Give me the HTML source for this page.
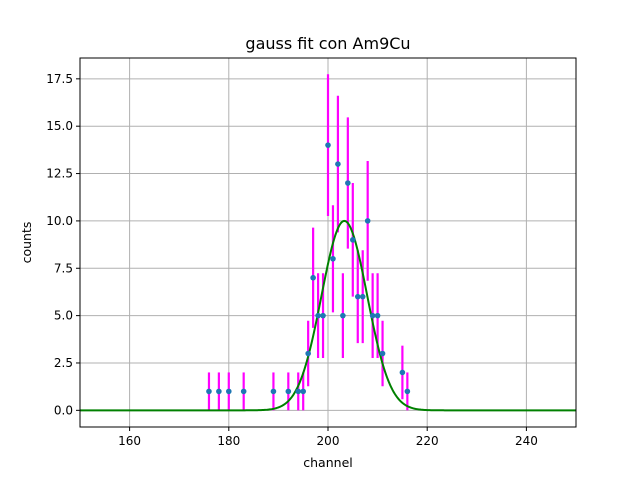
<!DOCTYPE html>
<html><head><meta charset="utf-8"><style>
body{margin:0;background:#fff;}
svg{display:block;font-family:"DejaVu Sans","Liberation Sans",sans-serif;}
</style></head><body>
<svg id="chart" width="640" height="480"></svg>
<script>
const channels=[176,178,180,183,189,192,194,195,196,197,198,199,200,201,202,203,204,205,206,207,208,209,210,211,215,216];
const counts=[1,1,1,1,1,1,1,1,3,7,5,5,14,8,13,5,12,9,6,6,10,5,5,3,2,1];
const fitAmp=10, fitMu=203.3, fitSigma=4.6;
const xTicks=[160,180,200,220,240];
const yTicks=[0,2.5,5,7.5,10,12.5,15,17.5];
const yTickLabels=["0.0","2.5","5.0","7.5","10.0","12.5","15.0","17.5"];
const L=80,R=576,T=58,B=427,xMin=150,xMax=250,yMin=-0.88,yMax=18.6;
const X=v=>L+(v-xMin)/(xMax-xMin)*(R-L);
const Y=v=>B-(v-yMin)/(yMax-yMin)*(B-T);
const svg=document.getElementById('chart');
const NS='http://www.w3.org/2000/svg';
function mk(tag,attrs,parent){const e=document.createElementNS(NS,tag);for(const k in attrs)e.setAttribute(k,attrs[k]);(parent||svg).appendChild(e);return e;}
const grid=mk('g',{});


xTicks.forEach(t=>{mk('line',{x1:X(t),x2:X(t),y1:T,y2:B,stroke:'#b0b0b0','stroke-width':1},grid);
 mk('line',{x1:X(t),x2:X(t),y1:B,y2:B+4,stroke:'#000'});
 const tx=mk('text',{x:X(t),y:B+18,'text-anchor':'middle','font-size':12});tx.textContent=t;
 
 });
yTicks.forEach((t,i)=>{mk('line',{x1:L,x2:R,y1:Y(t),y2:Y(t),stroke:'#b0b0b0','stroke-width':1},grid);
 mk('line',{x1:L-4,x2:L,y1:Y(t),y2:Y(t),stroke:'#000'});
 const tx=mk('text',{x:L-7,y:Y(t)+4,'text-anchor':'end','font-size':12});tx.textContent=yTickLabels[i];
 
 });
const eb=mk('g',{});


channels.forEach((c,i)=>{const e=Math.sqrt(counts[i]);mk('line',{x1:X(c),x2:X(c),y1:Y(counts[i]-e),y2:Y(counts[i]+e),stroke:'#ff00ff','stroke-width':2.2},eb);});
let d='';for(let v=xMin;v<=xMax;v+=0.25){const y=fitAmp*Math.exp(-((v-fitMu)**2)/(2*fitSigma**2));d+=(d?'L':'M')+X(v).toFixed(2)+','+Y(y).toFixed(2);}
const fit=mk('path',{d:d,fill:'none',stroke:'#008000','stroke-width':2});


const pts=mk('g',{});


channels.forEach((c,i)=>{mk('circle',{cx:X(c),cy:Y(counts[i]),r:2.8,fill:'#1f77b4'},pts);});
const fr=mk('rect',{x:L,y:T,width:R-L,height:B-T,fill:'none',stroke:'#000','stroke-width':1});


const ti=mk('text',{x:(L+R)/2,y:49,'text-anchor':'middle','font-size':16});ti.textContent='gauss fit con Am9Cu';


const xl=mk('text',{x:(L+R)/2,y:467,'text-anchor':'middle','font-size':12.5});xl.textContent='channel';


const yl=mk('text',{x:31,y:(T+B)/2,'text-anchor':'middle','font-size':12.5,transform:`rotate(-90 31 ${(T+B)/2})`});yl.textContent='counts';


</script>
</body></html>
